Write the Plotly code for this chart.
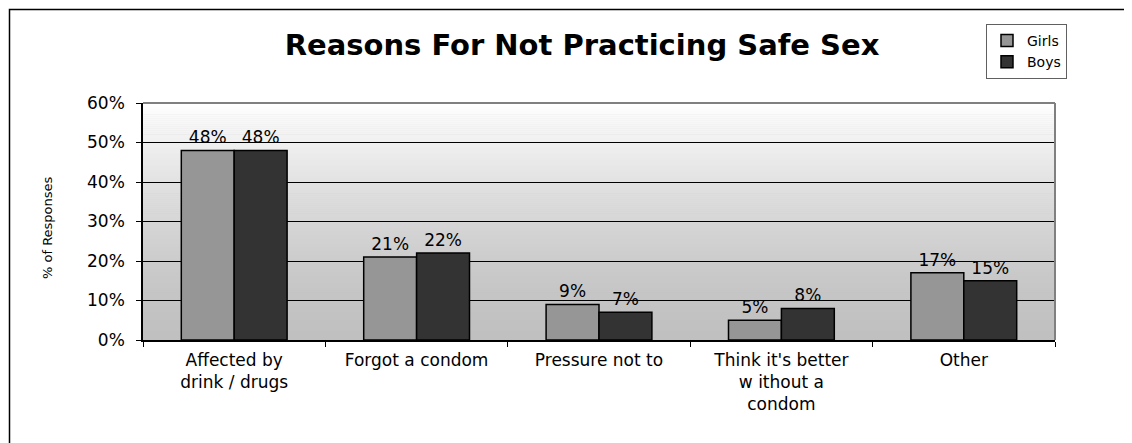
import plotly.graph_objects as go

categories = ["Affected by<br>drink / drugs", "Forgot a condom", "Pressure not to",
              "Think it's better<br>w ithout a<br>condom", "Other"]
girls = [48, 21, 9, 5, 17]
boys = [48, 22, 7, 8, 15]
y_ticks = [0, 10, 20, 30, 40, 50, 60]
y_tick_labels = [f"{v}%" for v in y_ticks]
title_text = "Reasons For Not Practicing Safe Sex"
y_title = "% of Responses"

FONT = "DejaVu Sans"
OFF = 8  # page body margin

# target plot area in window pixels
PL, PR, PT, PB = 143, 1055, 103, 340
W, H = 1132 - OFF, 443 - OFF
PW, PH = PR - PL, PB - PT

fig = go.Figure()
fig.add_trace(go.Bar(
    name="Girls", x=categories, y=girls,
    text=[f"{v}%" for v in girls], textposition="outside",
    marker=dict(color="#969696", line=dict(color="#000000", width=1.5)),
    textfont=dict(family=FONT, size=17, color="#000000"),
    cliponaxis=False,
))
fig.add_trace(go.Bar(
    name="Boys", x=categories, y=boys,
    text=[f"{v}%" for v in boys], textposition="outside",
    marker=dict(color="#333333", line=dict(color="#000000", width=1.5)),
    textfont=dict(family=FONT, size=17, color="#000000"),
    cliponaxis=False,
))

# gradient background of the plot area
shapes = []
n = 120
for i in range(n):
    t0 = i / n
    t1 = (i + 1) / n
    tm = (t0 + t1) / 2
    v = int(round(192 + 63 * tm ** 1.5))
    shapes.append(dict(type="rect", xref="x domain", yref="y domain",
                       x0=0, x1=1, y0=t0, y1=t1 + 0.002, layer="below",
                       fillcolor=f"rgb({v},{v},{v})", line=dict(width=0)))
# gray top/right border of plot area
shapes.append(dict(type="line", xref="x domain", yref="y domain",
                   x0=0, x1=1, y0=1, y1=1, layer="above",
                   line=dict(color="#808080", width=2)))
shapes.append(dict(type="line", xref="x domain", yref="y domain",
                   x0=1, x1=1, y0=0, y1=1, layer="above",
                   line=dict(color="#808080", width=2)))
# outer chart border (extends beyond the visible window to right/bottom)
shapes.append(dict(type="rect", xref="paper", yref="paper",
                   x0=(9.5 - PL) / PW, x1=1.3, y0=-1.0, y1=1 + (PT - 9.5) / PH,
                   layer="below", line=dict(color="#000000", width=1.5),
                   fillcolor="rgba(0,0,0,0)"))

fig.update_layout(
    width=W, height=H,
    margin=dict(l=PL - OFF, r=W - (PR - OFF), t=PT - OFF, b=H - (PB - OFF)),
    paper_bgcolor="#ffffff",
    plot_bgcolor="#c0c0c0",
    barmode="group", bargap=0.42, bargroupgap=0,
    font=dict(family=FONT, size=17, color="#000000"),
    title=dict(text=f"<b>{title_text}</b>", x=(582 - OFF) / W, xanchor="center",
               y=1 - (45 - OFF) / H, yanchor="middle",
               font=dict(family=FONT, size=29, color="#000000")),
    legend=dict(x=(986 - PL) / PW, xanchor="left", y=1 + (PT - 24) / PH, yanchor="top",
                bgcolor="#ffffff", bordercolor="#606060", borderwidth=1,
                font=dict(family=FONT, size=14, color="#000000"),
                itemwidth=30, tracegroupgap=0),
    shapes=shapes,
    showlegend=True,
    annotations=[dict(text=y_title, xref="paper", yref="paper",
                      x=(47 - PL) / PW, y=(PB - 228) / PH,
                      xanchor="center", yanchor="middle",
                      textangle=-90, showarrow=False,
                      font=dict(family=FONT, size=13, color="#000000"))],
)
fig.update_xaxes(
    type="category", tickson="boundaries", ticks="outside", ticklen=5,
    tickcolor="#000000", showline=True, linecolor="#000000", linewidth=1.5,
    showgrid=False, tickfont=dict(family=FONT, size=17), ticklabelstandoff=4,
)
fig.update_yaxes(
    range=[0, 60], tickvals=y_ticks, ticktext=y_tick_labels,
    ticks="outside", ticklen=5, tickcolor="#000000",
    showline=True, linecolor="#000000", linewidth=1.5,
    showgrid=True, gridcolor="#000000", gridwidth=1,
    zeroline=False, tickfont=dict(family=FONT, size=17), ticklabelstandoff=8,
)

fig.write_html("out.html")
